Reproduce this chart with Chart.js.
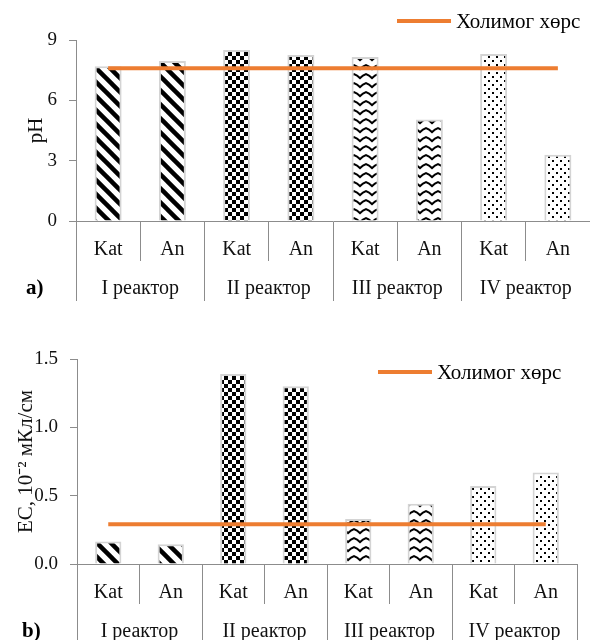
<!DOCTYPE html>
<html><head><meta charset="utf-8">
<script src="https://cdn.jsdelivr.net/npm/chart.js@4.4.0/dist/chart.umd.min.js"></script>
<style>
html,body{margin:0;padding:0;background:#fff;overflow:hidden;width:590px;height:640px;position:relative}
#wrapA{position:absolute;left:0;top:0;width:590px;height:320px}
#wrapB{position:absolute;left:0;top:320px;width:590px;height:340px}
.lbl{position:absolute;font-family:"Liberation Serif";font-weight:bold;font-size:21px;line-height:22px;color:#000}
.leg{position:absolute;font-family:"Liberation Serif";font-size:21px;line-height:22px;height:22px;display:flex;align-items:center;white-space:nowrap;color:#000}
.leg .ln{display:inline-block;width:54px;height:4px;margin-right:5px}
</style></head>
<body>
<div id="wrapA"><canvas id="ca" width="590" height="320"></canvas></div>
<div id="wrapB"><canvas id="cb" width="590" height="340"></canvas></div>
<div class="lbl" style="left:26px;top:276px">a)</div>
<div class="lbl" style="left:22px;top:619px">b)</div>
<div class="leg" id="legA" style="left:397px;top:10px"></div>
<div class="leg" id="legB" style="left:378px;top:361px"></div>
<script>
const categories = ['Kat','An','Kat','An','Kat','An','Kat','An'];
const groups = ['I реактор','II реактор','III реактор','IV реактор'];
const phValues = [7.7, 7.95, 8.5, 8.25, 8.15, 5.05, 8.3, 3.3];
const phReference = [7.6, 7.6, 7.6, 7.6, 7.6, 7.6, 7.6, 7.6];
const ecValues = [0.165, 0.145, 1.39, 1.30, 0.33, 0.44, 0.57, 0.67];
const ecReference = [0.29, 0.29, 0.29, 0.29, 0.29, 0.29, 0.29, 0.29];
const phTicks = [0, 3, 6, 9];
const ecTicks = [0, 0.5, 1.0, 1.5];
const referenceLabel = 'Холимог хөрс';
const phTitle = 'pH';
const ecTitle = 'EC, 10⁻² мКл/см';

function makePattern(w, h, draw) {
  const c = document.createElement('canvas');
  c.width = w; c.height = h;
  const g = c.getContext('2d');
  g.fillStyle = '#fff'; g.fillRect(0, 0, w, h);
  g.fillStyle = '#000'; g.strokeStyle = '#000';
  draw(g, w, h);
  return g.createPattern(c, 'repeat');
}
const pStripes = makePattern(14, 14, (g, w, h) => {
  g.lineWidth = 4.5;
  for (let k = -1; k <= 1; k++) {
    g.beginPath(); g.moveTo(-2, k * h - 2); g.lineTo(w + 2, k * h + h + 2); g.stroke();
  }
});
const pChecker = makePattern(8, 8, (g) => {
  g.fillRect(0, 0, 4, 4); g.fillRect(4, 4, 4, 4);
});
const pWave = makePattern(12, 9, (g) => {
  g.lineWidth = 2;
  g.beginPath(); g.moveTo(-1, 7); g.lineTo(3, 3.5); g.lineTo(6, 2); g.lineTo(9, 3.5); g.lineTo(13, 7); g.stroke();
});
const pDots = makePattern(8, 8, (g) => {
  g.fillRect(0, 0, 2, 2); g.fillRect(4, 4, 2, 2);
});
const groupPatterns = [pStripes, pStripes, pChecker, pChecker, pWave, pWave, pDots, pDots];

const FONT = {family: 'Liberation Serif', size: 19};
const XFONT = {family: 'Liberation Serif', size: 20};
const TFONT = {family: 'Liberation Serif', size: 21};
const AX = '#8c8c8c';
const TXT = '#111';

function buildChart(canvasId, values, reference, ticks, title, opts) {
  return new Chart(document.getElementById(canvasId), {
    data: {
      labels: categories,
      datasets: [
        {type: 'line', label: referenceLabel, data: reference, xAxisID: 'x', yAxisID: 'y',
         borderColor: '#ED7D31', borderWidth: 4, pointRadius: 0, fill: false, order: 0},
        {type: 'bar', label: title, data: values, xAxisID: 'x', yAxisID: 'y',
         backgroundColor: groupPatterns, borderColor: '#d4d4d4', borderWidth: 2,
         barPercentage: 0.42, categoryPercentage: 1.0, order: 1}
      ]
    },
    options: {
      responsive: false, animation: false,
      layout: {padding: {top: opts.padTop, bottom: opts.padBottom, left: 0, right: opts.padRight}},
      plugins: {legend: {display: false}, tooltip: {enabled: false}},
      scales: {
        x: {type: 'category', labels: categories, position: 'bottom', offset: true, weight: 0,
            grid: {offset: true, drawOnChartArea: false, tickLength: 40, color: AX},
            border: {color: AX},
            ticks: {padding: -23, maxRotation: 0, autoSkip: false, color: TXT, font: XFONT},
            afterFit: s => { s.height = 40; }},
        x2: {type: 'category', labels: groups, position: 'bottom', offset: true, weight: 1,
            grid: {offset: true, drawOnChartArea: false, tickLength: 40, color: AX},
            border: {display: false},
            ticks: {padding: -24, maxRotation: 0, autoSkip: false, color: TXT, font: XFONT},
            afterFit: s => { s.height = 40; }},
        y: {min: ticks[0], max: ticks[ticks.length - 1],
            afterBuildTicks: s => { s.ticks = ticks.map(v => ({value: v})); },
            afterFit: s => { s.width = opts.yWidth; },
            grid: {drawOnChartArea: false, tickLength: 7, color: AX},
            border: {color: AX},
            ticks: {padding: 12, color: TXT, font: FONT, callback: v => opts.fmt(v)},
            title: {display: true, text: title, color: TXT, font: TFONT, padding: {top: opts.titlePad, bottom: 0}}}
      }
    }
  });
}

const chartA = buildChart('ca', phValues, phReference, phTicks, phTitle,
  {padTop: 40, padBottom: 19, padRight: 0, yWidth: 76, titlePad: 24, fmt: v => String(v)});
const chartB = buildChart('cb', ecValues, ecReference, ecTicks, ecTitle,
  {padTop: 39, padBottom: 16, padRight: 13, yWidth: 77, titlePad: 14, fmt: v => Number(v).toFixed(1)});

function fillLegend(id, chart) {
  const ds = chart.data.datasets[0];
  const el = document.getElementById(id);
  const ln = document.createElement('span'); ln.className = 'ln'; ln.style.background = ds.borderColor;
  const tx = document.createElement('span'); tx.textContent = ds.label;
  el.appendChild(ln); el.appendChild(tx);
}
fillLegend('legA', chartA);
fillLegend('legB', chartB);
</script>
</body></html>
